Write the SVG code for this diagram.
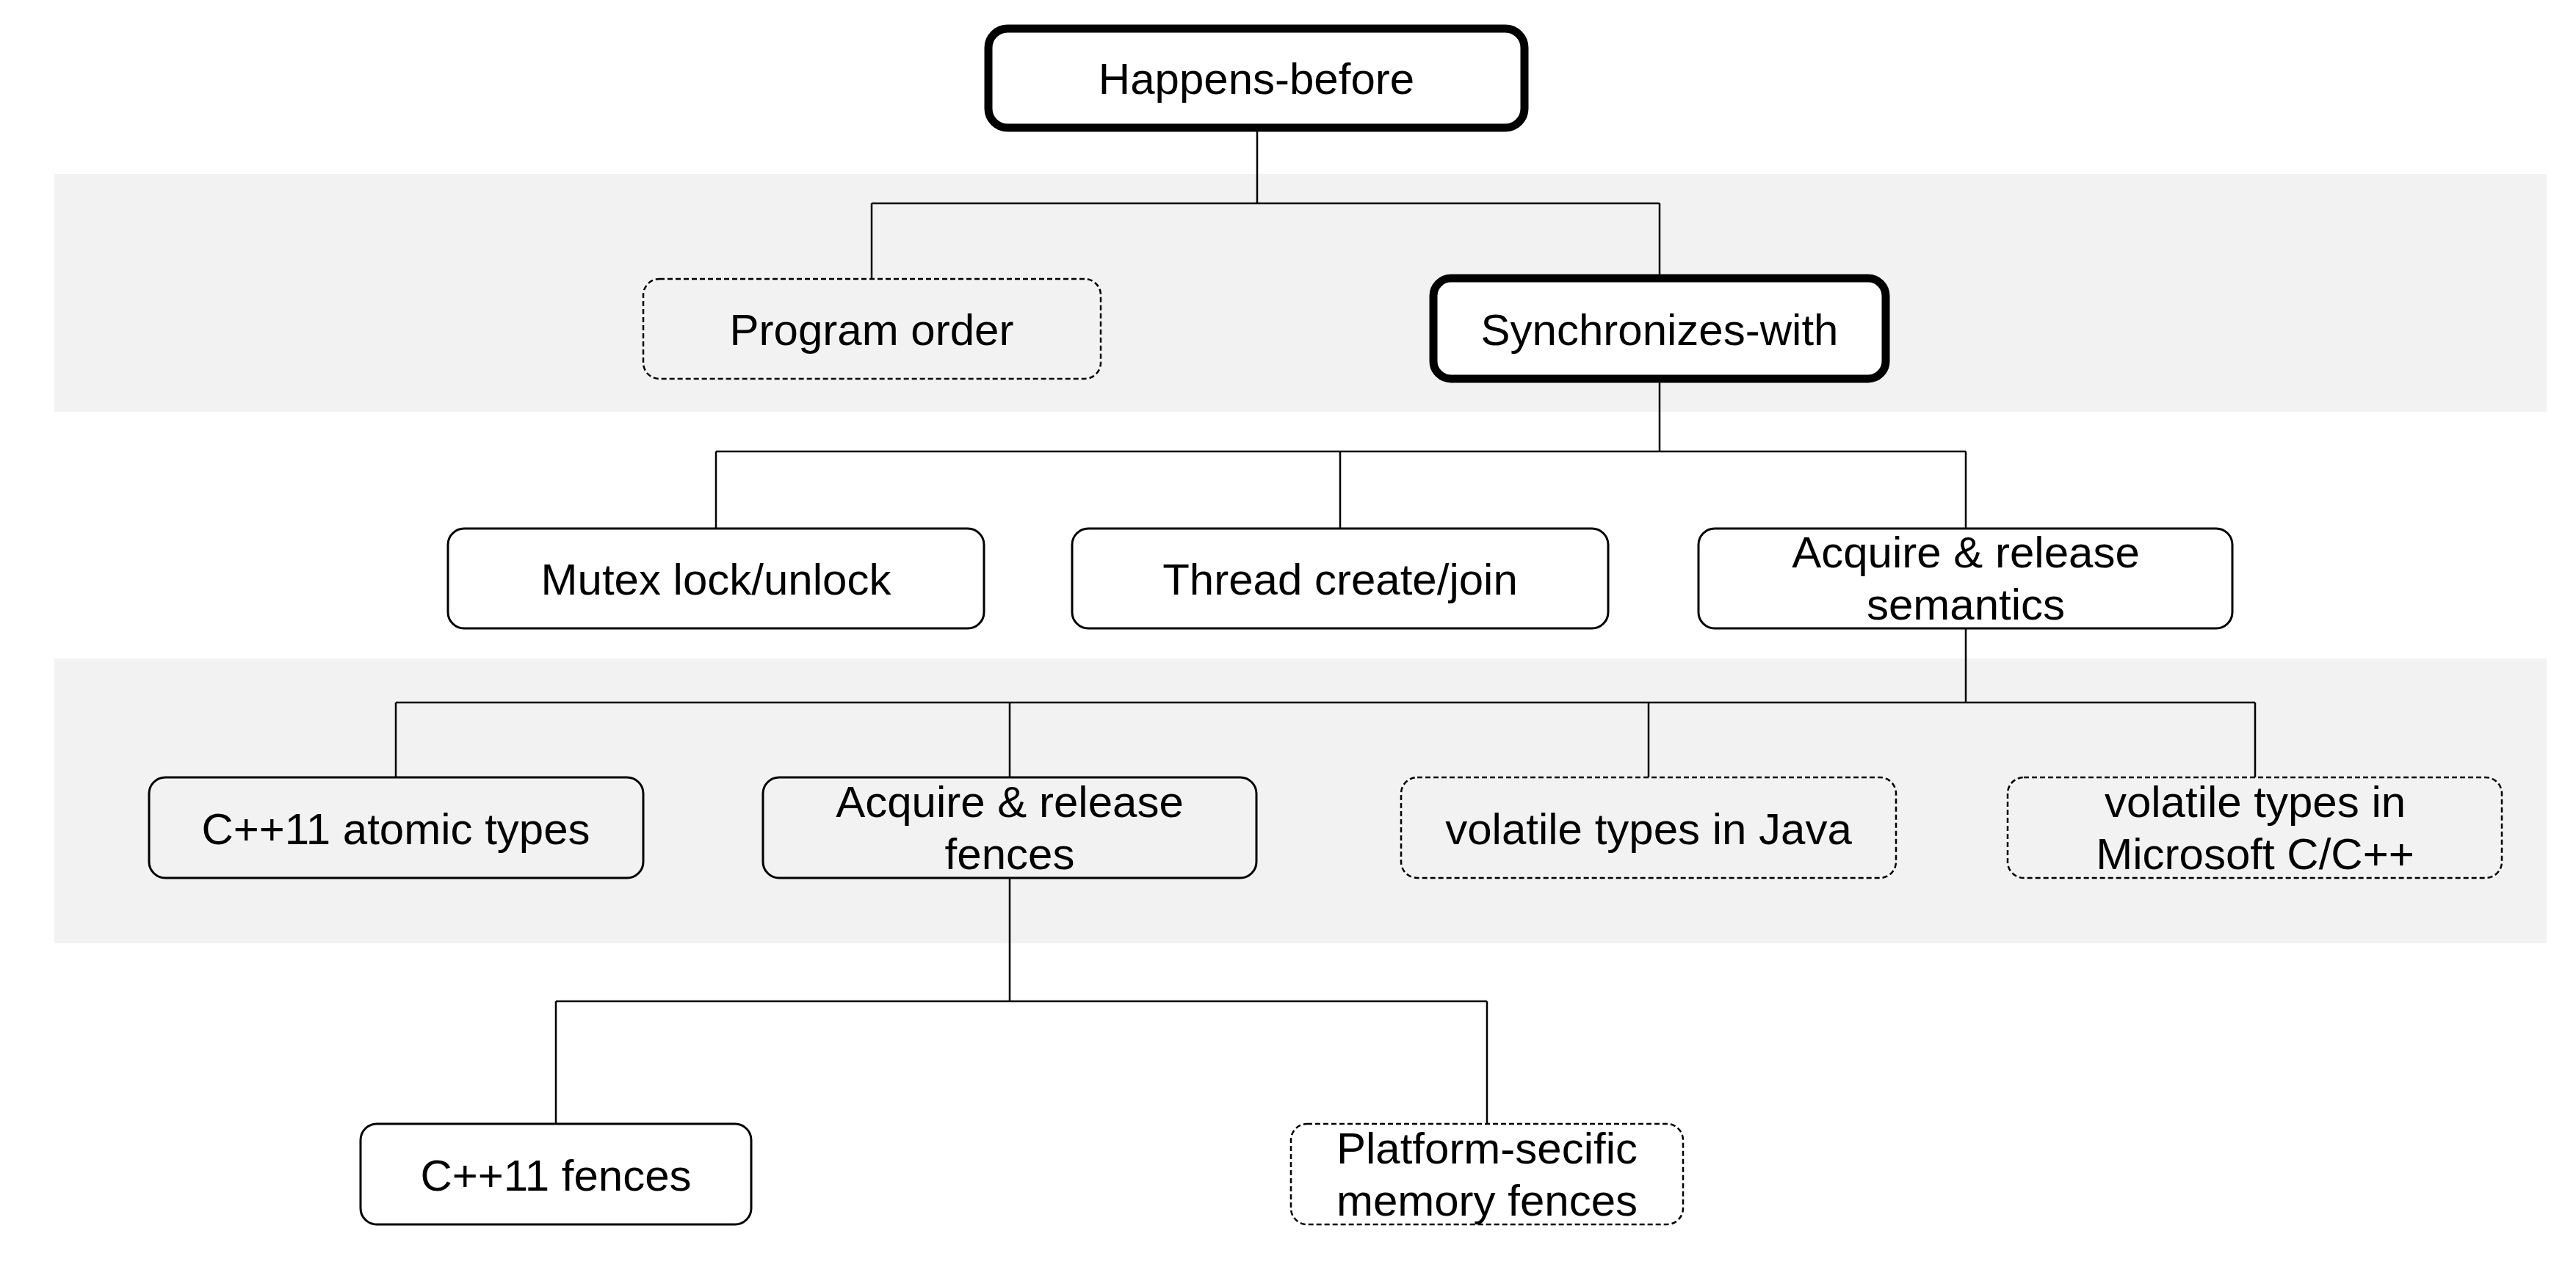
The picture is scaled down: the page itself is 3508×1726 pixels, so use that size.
<svg xmlns="http://www.w3.org/2000/svg" width="3508" height="1726" viewBox="0 0 3508 1726">
<style>
.band{fill:#f2f2f2}
.node{fill:#ffffff;stroke:#000;stroke-width:3}
.grey{fill:#f2f2f2}
.thick{stroke-width:11}
.dash{stroke-dasharray:7 4;stroke-width:2.5}
.lbl{font-family:"Liberation Sans",Arial,sans-serif;font-size:60px;fill:#000;text-anchor:middle}
.conn{fill:none;stroke:#000;stroke-width:2.5}
</style>
<rect width="3508" height="1726" fill="#ffffff"/>
<rect class="band" x="74" y="237" width="3394" height="324"/>
<rect class="band" x="74" y="897" width="3394" height="388"/>
<g id="connectors">
<path class="conn" d="M1712 174V277M1187 277H2260M1187 277V380M2260 277V379"/>
<path class="conn" d="M2260 516V615M975 615H2677M975 615V720M1825 615V720M2677 615V720"/>
<path class="conn" d="M2677 856V957M539 957H3071M539 957V1059M1375 957V1059M2245 957V1059M3071 957V1059"/>
<path class="conn" d="M1375 1196V1364M757 1364H2025M757 1364V1531M2025 1364V1531"/>
</g>
<g id="happens-before">
<rect class="node thick" x="1346" y="39" width="730" height="135" rx="26"/>
<text class="lbl" x="1711" y="128">Happens-before</text>
</g>
<g id="program-order">
<rect class="node grey dash" x="876" y="380" width="623" height="136" rx="22"/>
<text class="lbl" x="1187" y="470">Program order</text>
</g>
<g id="synchronizes-with">
<rect class="node thick" x="1952" y="379" width="616" height="137" rx="24"/>
<text class="lbl" x="2260" y="470">Synchronizes-with</text>
</g>
<g id="mutex">
<rect class="node" x="610" y="720" width="730" height="136" rx="22"/>
<text class="lbl" x="975" y="810">Mutex lock/unlock</text>
</g>
<g id="thread">
<rect class="node" x="1460" y="720" width="730" height="136" rx="22"/>
<text class="lbl" x="1825" y="810">Thread create/join</text>
</g>
<g id="acq-rel-semantics">
<rect class="node" x="2313" y="720" width="727" height="136" rx="22"/>
<text class="lbl" x="2677" y="773">Acquire &amp; release</text>
<text class="lbl" x="2677" y="844">semantics</text>
</g>
<g id="cpp11-atomic">
<rect class="node grey" x="203" y="1059" width="673" height="137" rx="22"/>
<text class="lbl" x="539" y="1150">C++11 atomic types</text>
</g>
<g id="acq-rel-fences">
<rect class="node grey" x="1039" y="1059" width="672" height="137" rx="22"/>
<text class="lbl" x="1375" y="1113">Acquire &amp; release</text>
<text class="lbl" x="1375" y="1184">fences</text>
</g>
<g id="volatile-java">
<rect class="node grey dash" x="1908" y="1059" width="674" height="137" rx="22"/>
<text class="lbl" x="2245" y="1150">volatile types in Java</text>
</g>
<g id="volatile-ms">
<rect class="node grey dash" x="2734" y="1059" width="673" height="137" rx="22"/>
<text class="lbl" x="3071" y="1113">volatile types in</text>
<text class="lbl" x="3071" y="1184">Microsoft C/C++</text>
</g>
<g id="cpp11-fences">
<rect class="node" x="491" y="1531" width="532" height="137" rx="22"/>
<text class="lbl" x="757" y="1622">C++11 fences</text>
</g>
<g id="platform-fences">
<rect class="node dash" x="1758" y="1531" width="534" height="137" rx="22"/>
<text class="lbl" x="2025" y="1585">Platform-secific</text>
<text class="lbl" x="2025" y="1656">memory fences</text>
</g>
</svg>
